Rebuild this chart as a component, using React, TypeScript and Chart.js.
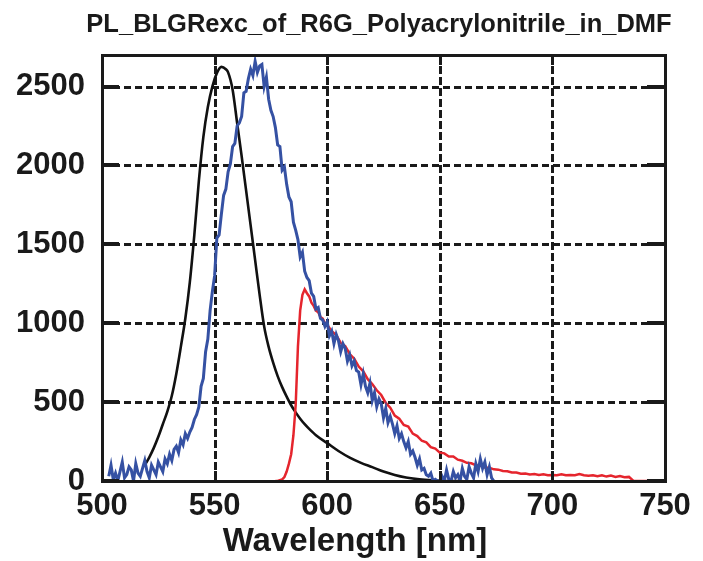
import React, { useEffect, useRef } from "react";
import { Chart, registerables } from "chart.js";

Chart.register(...registerables);

const chartTitle = "PL_BLGRexc_of_R6G_Polyacrylonitrile_in_DMF";
const xAxisTitle = "Wavelength [nm]";
const xTickValues = [500, 550, 600, 650, 700, 750];
const yTickValues = [0, 500, 1000, 1500, 2000, 2500];
const xMin = 500;
const xMax = 750;
const yMin = 0;
const yMax = 2700;

// black: smooth PL spectrum [wavelength nm, counts]
const blackSeries: [number, number][] = [
  [519, 100], [521, 150], [523, 210], [525, 280], [527, 360], [529, 440], [531, 540],
  [533, 680], [535, 850], [537, 1030], [539, 1260], [541, 1560], [543, 1900], [545, 2180],
  [547, 2370], [549, 2500], [551, 2585], [553, 2625], [555, 2610], [556, 2590], [558, 2480],
  [560, 2270], [562, 2060], [564, 1840], [566, 1620], [568, 1400], [570, 1180], [572, 980],
  [574, 850], [576, 750], [578, 665], [580, 595], [582, 535], [584, 480], [586, 435],
  [588, 395], [590, 360], [592, 330], [595, 290], [600, 240], [605, 190], [610, 148],
  [615, 115], [620, 88], [625, 60], [630, 38], [635, 22], [640, 12], [645, 6], [650, 2],
  [655, 0], [660, 0],
];

// blue: noisy PL spectrum [wavelength nm, counts]
const blueSeries: [number, number][] = [
  [503, 30], [504, 100], [505, 10], [506, 50], [507, 0], [508, 60], [509, 120], [510, 20],
  [511, 40], [512, 90], [513, 70], [514, 0], [515, 110], [516, 50], [517, 30], [518, 80],
  [519, 130], [520, 60], [521, 20], [522, 100], [523, 70], [524, 40], [525, 120], [526, 90],
  [527, 60], [528, 140], [529, 110], [530, 170], [531, 130], [532, 200], [533, 220], [534, 180],
  [535, 260], [536, 230], [537, 300], [538, 270], [539, 310], [540, 340], [541, 390], [542, 420],
  [543, 470], [544, 600], [545, 650], [546, 820], [547, 900], [548, 1080], [549, 1200], [550, 1300],
  [551, 1540], [552, 1560], [553, 1690], [554, 1810], [555, 1850], [556, 1960], [557, 2010], [558, 2120],
  [559, 2140], [560, 2250], [561, 2270], [562, 2310], [563, 2460], [564, 2470], [565, 2550], [566, 2610],
  [567, 2570], [568, 2660], [569, 2590], [570, 2630], [571, 2640], [572, 2500], [573, 2560], [574, 2420],
  [575, 2350], [576, 2310], [577, 2240], [578, 2130], [579, 2120], [580, 1970], [581, 1990], [582, 1880],
  [583, 1800], [584, 1770], [585, 1640], [586, 1590], [587, 1530], [588, 1420], [589, 1450], [590, 1330],
  [591, 1290], [592, 1270], [593, 1190], [594, 1170], [595, 1090], [596, 1100], [597, 1030], [598, 1020],
  [599, 980], [600, 1010], [601, 920], [602, 950], [603, 870], [604, 930], [605, 890], [606, 820],
  [607, 870], [608, 840], [609, 760], [610, 800], [611, 730], [612, 760], [613, 700], [614, 690],
  [615, 610], [616, 680], [617, 600], [618, 560], [619, 620], [620, 510], [621, 560], [622, 470],
  [623, 520], [624, 490], [625, 400], [626, 460], [627, 370], [628, 410], [629, 360], [630, 300],
  [631, 350], [632, 270], [633, 300], [634, 250], [635, 210], [636, 250], [637, 170], [638, 190],
  [639, 150], [640, 100], [641, 140], [642, 70], [643, 80], [644, 40], [645, 30], [646, 50],
  [647, 0], [648, 10], [649, 0], [650, 0], [651, 30], [652, 0], [653, 70], [654, 10],
  [655, 0], [656, 60], [657, 20], [658, 40], [659, 0], [660, 80], [661, 30], [662, 10],
  [663, 90], [664, 50], [665, 20], [666, 110], [667, 60], [668, 140], [669, 80], [670, 120],
  [671, 40], [672, 90], [673, 20], [674, 0],
];

// red: PL spectrum [wavelength nm, counts]
const redSeries: [number, number][] = [
  [577, 0], [578, 0], [579, 5], [580, 10], [581, 25], [582, 60], [583, 110], [584, 170],
  [585, 290], [586, 480], [587, 850], [588, 1080], [589, 1180], [590, 1215], [591, 1190], [592, 1170],
  [593, 1130], [594, 1110], [595, 1080], [596, 1070], [597, 1040], [598, 1030], [599, 1000], [600, 990],
  [602, 950], [604, 925], [606, 875], [608, 855], [610, 805], [612, 775], [614, 725], [616, 695],
  [618, 645], [620, 615], [622, 575], [624, 545], [626, 495], [628, 465], [630, 415], [632, 395],
  [634, 355], [636, 345], [638, 300], [640, 285], [642, 255], [644, 245], [646, 215], [648, 205],
  [650, 180], [652, 175], [654, 155], [656, 155], [658, 135], [660, 128], [662, 115], [664, 112],
  [666, 100], [668, 97], [670, 86], [672, 84], [674, 74], [676, 72], [678, 64], [680, 62],
  [682, 54], [684, 54], [686, 46], [688, 48], [690, 42], [692, 44], [694, 38], [696, 42],
  [698, 36], [700, 38], [702, 36], [704, 42], [706, 36], [708, 38], [710, 36], [712, 44],
  [714, 36], [716, 34], [718, 36], [720, 30], [722, 36], [724, 28], [726, 34], [728, 26],
  [730, 32], [732, 24], [734, 26], [736, 0], [740, 0], [745, 0], [750, 0],
];

const FONT = "'Liberation Sans', Arial, Helvetica, sans-serif";
const INK = "#1a1a1a";

const framePlugin = {
  id: "framePlugin",
  beforeDatasetsDraw(chart: any) {
    const { ctx, chartArea: a, scales } = chart;
    const x = scales.x;
    const y = scales.y;
    ctx.save();
    ctx.strokeStyle = INK;
    ctx.lineWidth = 3;
    ctx.setLineDash([7, 4]);
    for (const v of yTickValues) {
      if (v === yMin) continue;
      const py = Math.round(y.getPixelForValue(v)) + 0.5;
      ctx.beginPath();
      ctx.moveTo(a.left, py);
      ctx.lineTo(a.right, py);
      ctx.stroke();
    }
    ctx.setLineDash([8, 3]);
    for (const v of xTickValues) {
      if (v === xMin || v === xMax) continue;
      const px = Math.round(x.getPixelForValue(v)) + 0.5;
      ctx.beginPath();
      ctx.moveTo(px, a.top);
      ctx.lineTo(px, a.bottom);
      ctx.stroke();
    }
    ctx.restore();
  },
  afterDatasetsDraw(chart: any) {
    const { ctx, chartArea: a, scales } = chart;
    const x = scales.x;
    const y = scales.y;
    ctx.save();
    ctx.setLineDash([]);
    ctx.strokeStyle = INK;
    ctx.lineWidth = 4;
    for (const v of yTickValues) {
      const py = Math.round(y.getPixelForValue(v));
      ctx.beginPath();
      ctx.moveTo(a.left, py);
      ctx.lineTo(a.left + 17, py);
      ctx.moveTo(a.right, py);
      ctx.lineTo(a.right - 18, py);
      ctx.stroke();
    }
    ctx.lineWidth = 3;
    for (const v of xTickValues) {
      const px = Math.round(x.getPixelForValue(v)) + 0.5;
      ctx.beginPath();
      ctx.moveTo(px, a.top);
      ctx.lineTo(px, a.top + 10);
      ctx.moveTo(px, a.bottom);
      ctx.lineTo(px, a.bottom - 10);
      ctx.stroke();
    }
    ctx.lineWidth = 3;
    ctx.strokeRect(a.left + 0.5, a.top + 0.5, a.right - a.left, a.bottom - a.top);
    ctx.restore();
  },
  afterDraw(chart: any) {
    const { ctx } = chart;
    ctx.save();
    ctx.fillStyle = INK;
    ctx.textAlign = "center";
    ctx.textBaseline = "alphabetic";
    ctx.font = `bold 25.5px ${FONT}`;
    ctx.fillText(chartTitle, 379, 32);
    ctx.font = `bold 33px ${FONT}`;
    ctx.fillText(xAxisTitle, 355, 551);
    ctx.restore();
  },
};

const toPoints = (s: [number, number][]) => s.map(([x, y]) => ({ x, y }));

export default function App() {
  const canvasRef = useRef<HTMLCanvasElement | null>(null);

  useEffect(() => {
    document.body.style.margin = "0";
    const canvas = canvasRef.current;
    if (!canvas) return;
    const chart = new Chart(canvas, {
      type: "line",
      data: {
        datasets: [
          {
            label: "blue",
            data: toPoints(blueSeries),
            borderColor: "#3551a3",
            borderWidth: 3,
            pointRadius: 0,
            tension: 0,
            fill: false,
          },
          {
            label: "red",
            data: toPoints(redSeries),
            borderColor: "#e5252d",
            borderWidth: 2.5,
            pointRadius: 0,
            tension: 0,
            fill: false,
          },
          {
            label: "black",
            data: toPoints(blackSeries),
            borderColor: "#111111",
            borderWidth: 2.6,
            pointRadius: 0,
            cubicInterpolationMode: "monotone",
            fill: false,
          },
        ],
      },
      options: {
        animation: false,
        responsive: true,
        maintainAspectRatio: false,
        layout: { padding: { top: 55, right: 38, left: 0, bottom: 0 } },
        plugins: {
          legend: { display: false },
          tooltip: { enabled: false },
          title: { display: false },
        },
        scales: {
          x: {
            type: "linear",
            min: xMin,
            max: xMax,
            grid: { display: false, drawTicks: false },
            border: { display: false },
            afterBuildTicks: (s: any) => {
              s.ticks = xTickValues.map((v) => ({ value: v }));
            },
            afterFit: (s: any) => {
              s.height = 80;
            },
            ticks: {
              color: INK,
              padding: 7,
              maxRotation: 0,
              autoSkip: false,
              callback: (v: any) => String(v),
              font: { family: FONT, size: 31, weight: "bold" },
            },
          },
          y: {
            type: "linear",
            min: yMin,
            max: yMax,
            grid: { display: false, drawTicks: false },
            border: { display: false },
            afterBuildTicks: (s: any) => {
              s.ticks = yTickValues.map((v) => ({ value: v }));
            },
            afterFit: (s: any) => {
              s.width = 102;
            },
            ticks: {
              color: INK,
              padding: 17,
              autoSkip: false,
              callback: (v: any) => String(v),
              font: { family: FONT, size: 31, weight: "bold" },
            },
          },
        },
      },
      plugins: [framePlugin],
    } as any);
    return () => chart.destroy();
  }, []);

  return (
    <div style={{ width: 703, height: 561, position: "relative", background: "#fff" }}>
      <canvas ref={canvasRef} />
    </div>
  );
}
